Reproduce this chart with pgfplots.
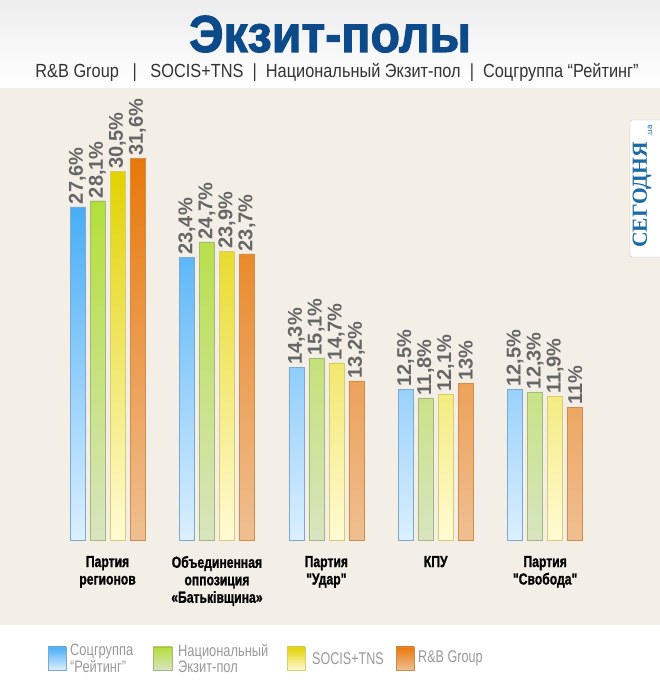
\documentclass[border=0pt]{standalone}
\usepackage{fontspec}
\setmainfont{Liberation Sans}
\newfontfamily\condfont[FakeStretch=0.76,FakeBold=1]{Liberation Sans}
\newfontfamily\narrowfont[FakeStretch=0.74]{Liberation Sans}
\newfontfamily\subfont[FakeStretch=0.86]{Liberation Sans}
\newfontfamily\legfont[FakeStretch=0.78]{Liberation Sans}
\newfontfamily\titlefont[FakeStretch=0.93,FakeBold=2]{Liberation Sans}
\newfontfamily\logofont{Liberation Serif}
\usepackage{pgfplots}
\usepackage{pgfplotstable}
\pgfplotsset{compat=1.18}

\definecolor{bluetop}{HTML}{48ADF5}
\definecolor{bluebot}{HTML}{DCEFFF}
\definecolor{blueedge}{HTML}{7BAAD0}
\definecolor{greentop}{HTML}{B4DF3A}
\definecolor{greenbot}{HTML}{D8E4C0}
\definecolor{greenedge}{HTML}{A4B77E}
\definecolor{yeltop}{HTML}{E2D200}
\definecolor{yelbot}{HTML}{FFFBD4}
\definecolor{yeledge}{HTML}{D9CB72}
\definecolor{ortop}{HTML}{E8780A}
\definecolor{orbot}{HTML}{EFBF92}
\definecolor{oredge}{HTML}{CF8C4A}
\definecolor{beige}{HTML}{F3EFE6}
\definecolor{titleblue}{HTML}{0C4A8A}
\definecolor{labgrey}{HTML}{666666}
\definecolor{logoblue}{HTML}{1A6BA6}

\pgfplotstableread{
x y
0 27.6
1 23.4
2 14.3
3 12.5
4 12.5
}\rating
\pgfplotstableread{
x y
0 28.1
1 24.7
2 15.1
3 11.8
4 12.3
}\national
\pgfplotstableread{
x y
0 30.5
1 23.9
2 14.7
3 12.1
4 11.9
}\socis
\pgfplotstableread{
x y
0 31.6
1 23.7
2 13.2
3 13.0
4 11.0
}\rb

\begin{document}
\begin{tikzpicture}[x=1pt,y=1pt]
\useasboundingbox (0,0) rectangle (660,688);
\shade[top color=black!7, bottom color=white] (0,600) rectangle (660,688);
\fill[beige] (0,63) rectangle (660,600);
\fill[white] (0,0) rectangle (660,63);

\node[anchor=base, text=titleblue, font=\titlefont\bfseries\fontsize{52}{52}\selectfont, inner sep=0pt] at (330,636) {Экзит-полы};
\node[anchor=base, text=black!80, font=\subfont\fontsize{19}{19}\selectfont, inner sep=0pt] at (337,610) {R\&B Group \ \ | \ \ SOCIS+TNS \ | \ Национальный Экзит-пол \ | \ Соцгруппа “Рейтинг”};

\begin{axis}[at={(0,122)}, anchor=south west, scale only axis,
  width=660pt, height=423.2pt,
  xmin=-0.983, xmax=5.050, ymin=0, ymax=35,
  axis line style={draw=none}, ytick=\empty, xtick={0,...,4},
  major tick length=0pt,
  xticklabels={{Партия\\регионов},{Объединенная\\оппозиция\\«Батьківщина»},{Партия\\"Удар"},{КПУ},{Партия\\"Свобода"}},
  xticklabel style={font=\condfont\bfseries\fontsize{16}{17.5}\selectfont, align=center, anchor=north, yshift=-12pt, text=black},
  ybar, bar width=15pt, clip=false,
  nodes near coords={\pgfmathprintnumber[fixed,precision=1,use comma,assume math mode=true]{\pgfplotspointmeta}\%},
  every node near coord/.append style={rotate=90, anchor=west, font=\bfseries\fontsize{20}{20}\selectfont, text=labgrey, inner sep=2.5pt},
]
\addplot[bar shift=-30pt, draw=blueedge, top color=bluetop, bottom color=bluebot] table[x=x,y=y]{\rating};
\addplot[bar shift=-10pt, draw=greenedge, top color=greentop, bottom color=greenbot] table[x=x,y=y]{\national};
\addplot[bar shift=10pt, draw=yeledge, top color=yeltop, bottom color=yelbot] table[x=x,y=y]{\socis};
\addplot[bar shift=30pt, draw=oredge, top color=ortop, bottom color=orbot] table[x=x,y=y]{\rb};
\end{axis}

% legend
\shade[top color=bluetop, bottom color=bluebot, draw=blueedge] (48,18) rectangle (66,41);
\node[anchor=west, text=black!40, font=\legfont\fontsize{16.5}{13}\selectfont, align=left, inner sep=0pt] at (70,29.5) {Соцгруппа\\“Рейтинг”};
\shade[top color=greentop, bottom color=greenbot, draw=greenedge] (153,18) rectangle (172,41);
\node[anchor=west, text=black!40, font=\legfont\fontsize{16.5}{13}\selectfont, align=left, inner sep=0pt] at (178,29.5) {Национальный\\Экзит-пол};
\shade[top color=yeltop, bottom color=yelbot, draw=yeledge] (287,18) rectangle (305,41);
\node[anchor=west, text=black!40, font=\narrowfont\fontsize{17}{17}\selectfont, inner sep=0pt] at (312,29.5) {SOCIS+TNS};
\shade[top color=ortop, bottom color=orbot, draw=oredge] (396,18) rectangle (414,41);
\node[anchor=west, text=black!40, font=\narrowfont\fontsize{17}{17}\selectfont, inner sep=0pt] at (418,29.5) {R\&B Group};

% logo
\fill[white, draw=black!25, rounded corners=2pt] (630,431) rectangle (663,568);
\node[rotate=90, text=logoblue, font=\logofont\bfseries\fontsize{21.5}{21.5}\selectfont, inner sep=0pt] at (642,493) {СЕГОДНЯ};
\node[rotate=90, text=logoblue, font=\fontsize{8}{8}\selectfont, inner sep=0pt] at (650,557) {.ua};
\end{tikzpicture}
\end{document}
